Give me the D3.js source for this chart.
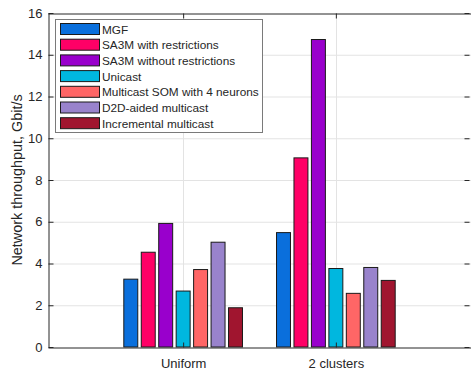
<!DOCTYPE html>
<html lang="en">
<head>
	<meta charset="utf-8">
	<title>throughput bars</title>
	<script src="https://d3js.org/d3.v7.min.js"></script>
	<style>
		body{ margin:0; background:#fff; }
		svg text{ font-family:"Liberation Sans", Arial, sans-serif; fill:#262626; }
	</style>
</head>
<body>
<div id="chart"></div>

<script>
// data
let categories=["Uniform","2 clusters"];
let seriesNames=["MGF","SA3M with restrictions","SA3M without restrictions","Unicast",
	"Multicast SOM with 4 neurons","D2D-aided multicast","Incremental multicast"];
let seriesColors=["#0a6fdc","#ff0066","#9900cc","#00b7df","#ff6666","#9983cc","#a0152f"];
let uniformVals=[3.25,4.54,5.92,2.68,3.71,5.02,1.88];
let clusterVals=[5.48,9.06,14.73,3.76,2.57,3.81,3.19];
let yTicks=[0,2,4,6,8,10,12,14,16];

let values=[uniformVals,clusterVals];

let W=471,H=370;
let pLeft=48,pRight=471,pTop=13,pBottom=347;

let svg=d3.select("#chart").append("svg")
	.attr("width",W).attr("height",H);

let x=d3.scaleLinear().domain([1-0.885,2+0.885]).range([pLeft,pRight]);
let y=d3.scaleLinear().domain([0,16]).range([pBottom,pTop]);

// grid
svg.append("g").selectAll("line")
	.data(yTicks.slice(1,-1))
	.enter().append("line")
	.attr("x1",pLeft).attr("x2",pRight)
	.attr("y1",d=>y(d)+0.5).attr("y2",d=>y(d)+0.5)
	.attr("stroke","#e3e3e3");
svg.append("g").selectAll("line")
	.data([1,2])
	.enter().append("line")
	.attr("x1",d=>Math.round(x(d))+0.5).attr("x2",d=>Math.round(x(d))+0.5)
	.attr("y1",pTop).attr("y2",pBottom)
	.attr("stroke","#e3e3e3");

// bars (matlab style grouped)
let n=seriesNames.length;
let step=0.8/n, bw=step*0.8;
let flat=[];
values.forEach((row,ci)=>{
	row.forEach((v,si)=>{ flat.push({c:ci+1,s:si,v:v}); });
});
svg.append("g").selectAll("rect")
	.data(flat)
	.enter().append("rect")
	.attr("x",d=>x(d.c+(d.s-(n-1)/2)*step-bw/2))
	.attr("width",d=>x(bw)-x(0))
	.attr("y",d=>y(d.v))
	.attr("height",d=>y(0)-y(d.v))
	.attr("fill",d=>seriesColors[d.s])
	.attr("stroke","#1a1a1a")
	.attr("stroke-width",1);

// axes
let yAxis=d3.axisLeft(y).tickValues(yTicks).tickSizeInner(-5).tickSizeOuter(0).tickPadding(6);
let gy=svg.append("g").attr("transform","translate("+(pLeft+0.5)+",0)").call(yAxis);
let yAxisR=d3.axisRight(y).tickValues(yTicks).tickSizeInner(-5).tickSizeOuter(0).tickFormat("");
let gyr=svg.append("g").attr("transform","translate("+(pRight-1.5)+",0)").call(yAxisR);
gyr.select(".domain").remove();
let xAxis=d3.axisBottom(x).tickValues([1,2]).tickFormat((d,i)=>categories[i]).tickSizeInner(-5).tickSizeOuter(0).tickPadding(11);
let gx=svg.append("g").attr("transform","translate(0,"+(pBottom+0.5)+")").call(xAxis);
let xAxisT=d3.axisTop(x).tickValues([1,2]).tickFormat("").tickSizeInner(-5).tickSizeOuter(0);
let gxt=svg.append("g").attr("transform","translate(0,"+(pTop+0.5)+")").call(xAxisT);
[gy,gyr,gx,gxt].forEach(g=>{
	g.selectAll(".domain").attr("stroke","#262626");
	g.selectAll(".tick line").attr("stroke","#262626");
	g.selectAll("text").style("font-size","13px").attr("fill","#333");
});

// y label
svg.append("text")
	.attr("transform","translate(22,"+((pTop+pBottom)/2)+") rotate(-90)")
	.attr("text-anchor","middle")
	.style("font-size","14.4px")
	.text("Network throughput, Gbit/s");

// legend
let lg=svg.append("g");
lg.append("rect")
	.attr("x",55.5).attr("y",19.5).attr("width",207).attr("height",113)
	.attr("fill","#fff").attr("stroke","#7a7a7a");
let row=lg.selectAll("g.item")
	.data(seriesNames)
	.enter().append("g")
	.attr("class","item")
	.attr("transform",(d,i)=>"translate(0,"+(23+i*15.7)+")");
row.append("rect")
	.attr("x",60.5).attr("y",0.5).attr("width",39).attr("height",11)
	.attr("fill",(d,i)=>seriesColors[i])
	.attr("stroke","#1a1a1a");
row.append("text")
	.attr("x",102).attr("y",10.5)
	.style("font-size","11.8px")
	.attr("fill","#111")
	.text(d=>d);
</script>
</body>
</html>
